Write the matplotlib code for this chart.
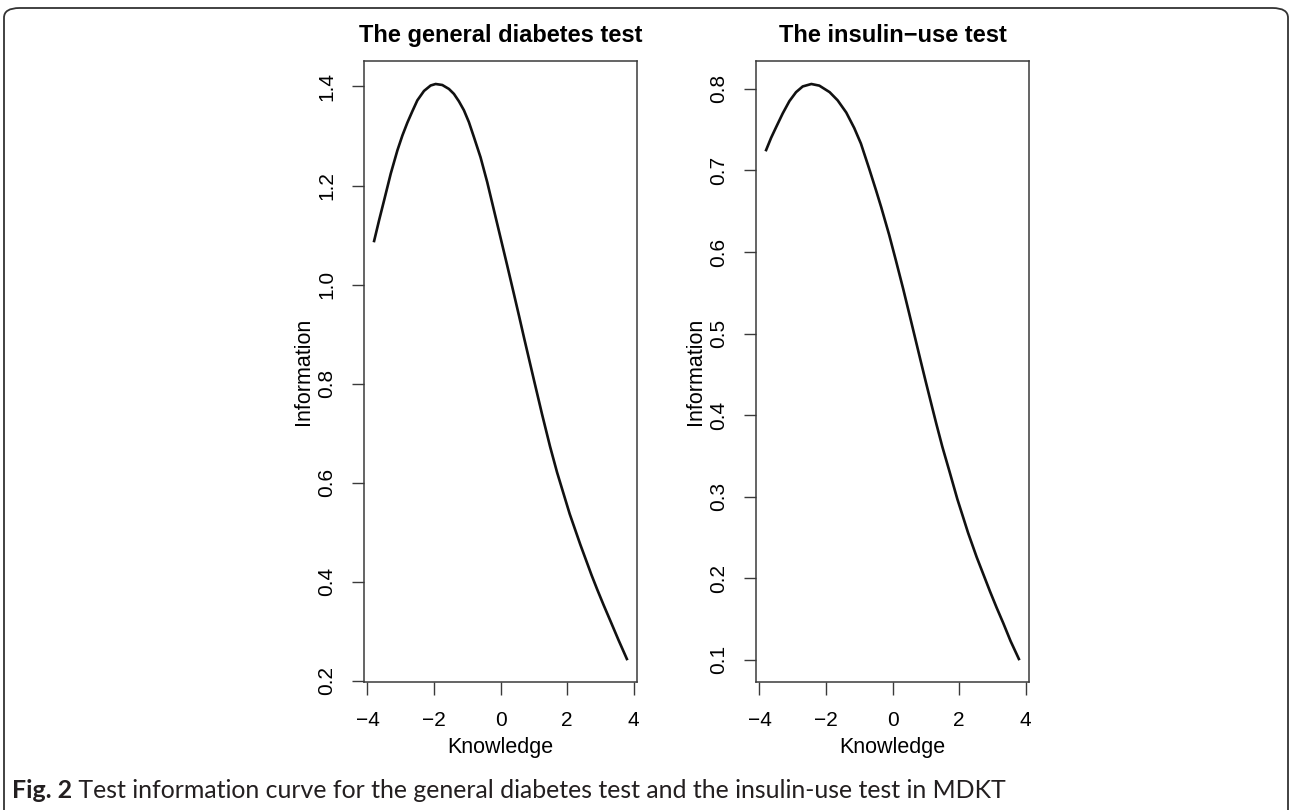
import matplotlib
matplotlib.use("Agg")
import matplotlib.pyplot as plt
from matplotlib.patches import FancyBboxPatch

# ---- data ----
general_x = [-3.80, -3.65, -3.50, -3.30, -3.10, -2.95, -2.80, -2.65, -2.50, -2.30,
             -2.10, -1.95, -1.75, -1.55, -1.40, -1.25, -1.10, -0.95, -0.80, -0.60,
             -0.40, -0.20, 0.00, 0.20, 0.40, 0.56, 0.71, 0.86, 1.01, 1.25,
             1.49, 1.70, 2.08, 2.40, 2.74, 2.91, 3.10, 3.31, 3.55, 3.80]
general_y = [1.088, 1.130, 1.170, 1.224, 1.271, 1.301, 1.327, 1.350, 1.372, 1.391,
             1.402, 1.405, 1.403, 1.395, 1.385, 1.370, 1.352, 1.328, 1.298, 1.257,
             1.207, 1.151, 1.095, 1.039, 0.982, 0.936, 0.892, 0.849, 0.806, 0.738,
             0.673, 0.621, 0.537, 0.475, 0.413, 0.384, 0.353, 0.320, 0.282, 0.244]

insulin_x = [-3.80, -3.65, -3.50, -3.30, -3.10, -2.90, -2.70, -2.44, -2.20, -1.89,
             -1.65, -1.39, -1.15, -0.95, -0.70, -0.49, -0.34, -0.10, 0.10, 0.32,
             0.50, 0.69, 0.85, 1.00, 1.19, 1.32, 1.50, 1.72, 1.95, 2.13,
             2.27, 2.53, 2.73, 2.93, 3.13, 3.33, 3.55, 3.80]
insulin_y = [0.725, 0.740, 0.753, 0.770, 0.785, 0.796, 0.803, 0.806, 0.804, 0.796,
             0.786, 0.771, 0.752, 0.733, 0.702, 0.675, 0.655, 0.621, 0.590, 0.555,
             0.525, 0.493, 0.466, 0.441, 0.410, 0.389, 0.361, 0.330, 0.297, 0.274,
             0.256, 0.226, 0.205, 0.184, 0.164, 0.145, 0.123, 0.101]

titles = ["The general diabetes test", "The insulin\u2212use test"]
x_ticks = [-4, -2, 0, 2, 4]
x_ticklabels = ["\u22124", "\u22122", "0", "2", "4"]
general_yticks = [0.2, 0.4, 0.6, 0.8, 1.0, 1.2, 1.4]
insulin_yticks = [0.1, 0.2, 0.3, 0.4, 0.5, 0.6, 0.7, 0.8]
xlabel = "Knowledge"
ylabel = "Information"
caption_bold = "Fig. 2"
caption_text = " Test information curve for the general diabetes test and the insulin-use test in MDKT"

plt.rcParams['font.family'] = ['Liberation Sans', 'DejaVu Sans']

W, H = 1292, 810
fig = plt.figure(figsize=(W / 100, H / 100), dpi=100)

panels = [
    (364, general_x, general_y, general_yticks, titles[0]),
    (756, insulin_x, insulin_y, insulin_yticks, titles[1]),
]
ax_top, ax_bottom, ax_w = 61, 682, 273
spine_col = "#3a3a3a"
for left, xs, ys, yt, title in panels:
    ax = fig.add_axes([left / W, (H - ax_bottom) / H, ax_w / W, (ax_bottom - ax_top) / H])
    ax.plot(xs, ys, color="#111111", lw=1.9, solid_joinstyle="round")
    xr = xs[-1] - xs[0]
    ax.set_xlim(xs[0] - 0.04 * xr, xs[-1] + 0.04 * xr)
    yr = max(ys) - min(ys)
    ax.set_ylim(min(ys) - 0.04 * yr, max(ys) + 0.04 * yr)
    ax.set_xticks(x_ticks)
    ax.set_xticklabels(x_ticklabels)
    ax.set_yticks(yt)
    ax.set_yticklabels([f"{v:.1f}" for v in yt], rotation=90, va="center")
    ax.tick_params(axis="both", direction="out", length=9, width=1.0, color=spine_col,
                   labelsize=15)
    ax.tick_params(axis="x", pad=12)
    ax.tick_params(axis="y", pad=11)
    for s in ax.spines.values():
        s.set_color(spine_col)
        s.set_linewidth(1.1)
    ax.set_xlabel(xlabel, fontsize=15.5, labelpad=5)
    ax.set_ylabel(ylabel, fontsize=15.5, labelpad=2.5)
    ax.set_title(title, fontsize=17, fontweight="bold", pad=14)

# frame around the figure
frame = FancyBboxPatch((4 / W, -40 / H), (W - 8) / W, (H - 8 + 40) / H,
                       boxstyle="round,pad=0,rounding_size=0.012",
                       transform=fig.transFigure, fill=False, ec="#333333", lw=1.3,
                       clip_on=False)
fig.add_artist(frame)

# caption, sized so that it spans the same width as in the reference
cap_fam = ["Lato", "DejaVu Sans"]
cap_y = 1 - 791 / H
fs = 14
fig.canvas.draw()
r = fig.canvas.get_renderer()
tb = fig.text(12 / W, cap_y, caption_bold, fontsize=fs, fontweight="bold",
              family=cap_fam, va="center", ha="left", color="#231f20")
tt = fig.text(0, cap_y, caption_text, fontsize=fs, family=cap_fam,
              va="center", ha="left", color="#231f20")
total = tb.get_window_extent(r).width + tt.get_window_extent(r).width
fs = fs * 1000 / total
tb.set_fontsize(fs)
tt.set_fontsize(fs)
bb = tb.get_window_extent(r)
tt.set_x(bb.x1 / W)

fig.savefig("out.png", dpi=100)
